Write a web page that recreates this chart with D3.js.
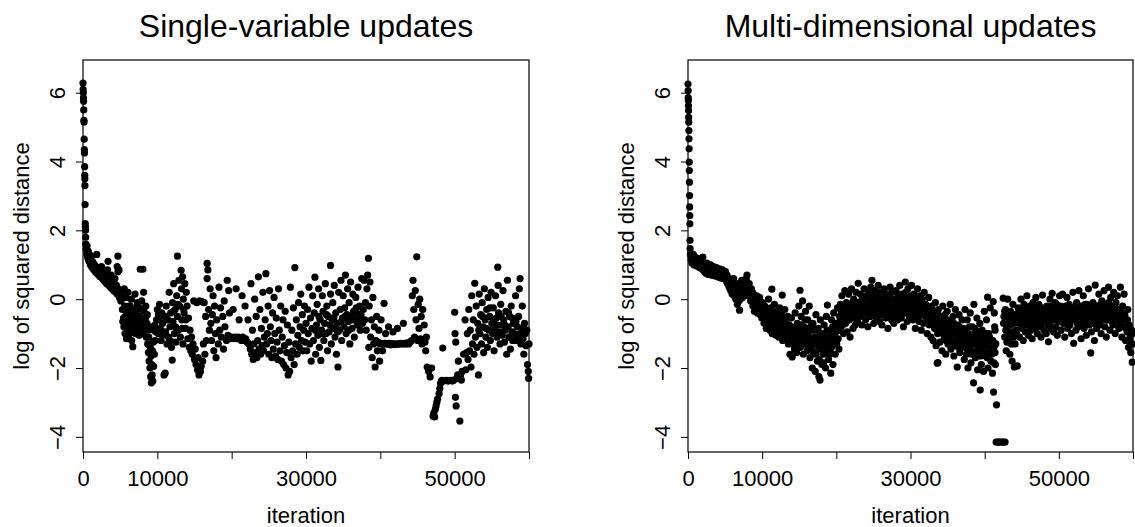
<!DOCTYPE html>
<html>
<head>
<meta charset="utf-8">
<script src="https://cdn.jsdelivr.net/npm/d3@7"></script>
<style>
  body { margin: 0; background: #fff; }
  text { font-family: "Liberation Sans", Arial, Helvetica, sans-serif; fill: #000; }
</style>
</head>
<body>
<div id="chart"></div>
<script>
// tick positions / labels (R drops the labels that would overlap)
const xTicks = [0, 10000, 20000, 30000, 40000, 50000, 60000];
const xTickLabels = ["0", "10000", "", "30000", "", "50000", ""];
const yTicks = [-4, -2, 0, 2, 4, 6];
const panelTitles = ["Single-variable updates", "Multi-dimensional updates"];

// [iteration, log of squared distance]
const singlePts = [
  [0,6.28],[20,6.1],[40,6.0],[60,5.85],[80,5.75],[100,5.5],[120,5.2],[140,5.15],[160,4.65],[180,4.35],[200,4.25],[220,3.85],[240,3.6],[250,3.5],[260,3.3],[280,2.75],[300,2.2],[320,2.1],[340,2.0],[360,1.8],[380,1.6],
  [420,1.45],[500,1.3],[550,1.55],[650,1.2],[700,1.4],[800,1.1],[850,1.3],[950,1.15],[1000,1.0],[1100,1.25],[1150,0.95],[1250,1.1],[1300,0.9],[1400,1.05],[1500,0.85],[1550,1.0],[1650,0.8],[1750,0.95],[1850,1.3],[1900,0.75],[2000,0.9],[2100,0.7],[2200,0.85],[2300,0.65],[2400,0.8],[2500,0.95],[2600,0.6],[2700,0.75],[2800,0.55],[2900,0.7],[3000,0.5],[3100,0.65],[3200,0.45],[3370,1.1],[3300,0.85],[3400,0.6],[3500,0.4],[3600,0.55],[3700,0.35],[3800,0.7],[3900,0.3],[4000,0.5],[4100,0.25],[4200,0.45],[4300,0.6],[4400,0.2],[4500,0.4],[4600,0.15],[4600,0.95],[4700,0.8],[4700,1.25],[4750,0.3],[4850,0.85],[4900,0.05],[5000,0.25],[5100,-0.05],[5200,0.15],
  [5300,-0.3],[5400,0.1],[5450,-0.55],[5500,-0.8],[5550,0.3],[5600,-0.2],[5650,-1.0],[5700,-0.5],[5750,0.05],[5800,-0.7],[5850,-1.15],[5900,-0.35],[6000,-0.9],[6050,0.2],[6100,-0.6],[6200,-0.2],[6250,-1.0],[6300,-0.45],[6400,-0.75],[6500,0.0],[6550,-1.2],[6600,-0.5],[6700,-1.38],[6750,-0.85],[6800,-0.3],[6900,-0.6],[7000,0.15],[7050,-1.0],[7100,-0.4],[7200,-0.75],[7300,-0.1],[7400,-0.9],[7500,-0.5],[7600,-0.25],[7700,0.87],[7700,-0.8],[7800,-0.55],[7900,-0.05],[8000,-1.0],[8050,0.87],[8100,-0.7],[8150,0.2],[8200,-0.35],[8300,-0.85],[8400,-0.55],[8500,-1.1],[8600,-0.7],[8700,-1.3],[8750,-0.9],[8800,-1.55],[8850,-1.1],[8900,-1.8],[8950,-0.8],[9000,-2.0],[9050,-1.4],[9100,-2.25],[9150,-1.65],[9200,-2.43],[9250,-1.9],[9300,-2.2],[9350,-1.5],[9400,-2.38],[9450,-1.25],[9500,-1.95],[9550,-0.9],[9600,-1.6],[9650,-0.75],[9700,-1.2],[9800,-0.95],[9900,-0.6],
  [5350,-0.65],[5650,-0.3],[5950,-0.75],[6150,-1.05],[6350,-0.2],[6650,-0.65],[6950,-0.95],[7150,-0.25],[7350,-0.6],[7550,-1.05],[7850,-0.3],[8250,-0.6],[8450,-0.2],[8650,-0.45],
  [10000,-0.3],[10100,-1.0],[10200,-0.6],[10300,-0.15],[10400,-0.85],[10500,-1.2],[10600,-0.4],[10700,-0.7],[10800,-1.05],[10900,-2.2],[11000,-0.5],[11050,-2.15],[11100,-0.95],[11200,-0.2],[11300,-1.3],[11400,-0.6],[11500,-1.1],[11600,0.2],[11700,-0.8],[11800,-0.4],[11900,-1.4],[12000,-1.77],[12050,-0.1],[12100,-0.65],[12200,0.45],[12300,-1.0],[12400,-0.3],[12500,-1.25],[12600,0.1],[12700,1.25],[12700,-0.5],[12800,-0.9],[12900,0.55],[13000,-0.2],[13100,-1.1],[13200,0.84],[13250,0.3],[13300,-0.6],[13400,0.65],[13450,-1.3],[13500,0.0],[13600,-0.4],[13700,0.45],[13800,-0.85],[13900,0.2],[14000,-0.2],[14100,-1.15],[14200,-0.55],[14300,-1.4],[14400,-0.9],[14500,-1.5],[14600,-1.1],[14700,-1.6],[14800,-1.3],[14900,-0.05],[15000,-1.75],[15100,-1.45],[15200,-1.9],[15300,-0.1],[15400,-2.05],[15500,-1.7],[15600,-2.2],[15700,-0.05],[15800,-2.1],[15900,-1.95],[16000,-0.07],[16100,-1.8],[16200,-1.3],[16300,-0.1],[16400,-1.6],[16500,-0.5],[16600,-1.2],[16700,1.04],[16700,0.6],[16800,0.85],[16900,-0.3],[17000,-0.9],[17100,0.3],[17200,-0.7],[17300,-1.2],[17400,-0.45],[17500,0.1],[17600,-1.5],[17700,-0.2],[17800,-1.0],[17900,-1.7],[18000,-0.6],[18200,-1.3],[18300,0.35],[18400,-0.9],[18500,-0.25],[18600,-1.1],[18800,-0.5],[18900,-1.45],[19000,-0.05],[19100,-0.8],[19300,-1.2],[19400,0.55],[19500,-1.05],[19600,0.25],[19700,-0.4],[19800,-1.15],
  [10150,-0.45],[10650,-0.95],[11150,-0.5],[11750,-1.2],[12150,-0.35],[12450,-0.8],[12750,-0.15],[13350,-0.85],[13550,-0.3],[13850,-0.6],
  [20000,-1.1],[20200,-0.3],[20300,-1.15],[20500,-1.1],[20600,0.3],[20700,-1.15],[20900,-1.1],[21000,-0.6],[21100,-1.15],[21300,-1.2],[21400,0.1],[21500,-1.1],[21700,-1.2],[21800,-0.2],[21900,-1.15],[22100,-1.25],[22200,-0.6],[22300,-1.3],[22500,-1.45],[22600,0.45],[22700,-1.6],[22800,-0.9],[22900,-1.75],[23000,-1.3],[23100,0.0],[23200,-1.55],[23300,-0.5],[23400,-1.7],[23500,-1.2],[23600,0.65],[23700,-1.45],[23800,-0.3],[23900,-1.6],[24000,-0.85],[24100,-1.35],[24200,0.2],[24300,-1.5],[24400,-1.1],[24500,-0.6],[24600,0.74],[24700,-1.3],[24800,-1.0],[24900,-0.2],
  [25000,-1.6],[25100,0.25],[25200,-0.8],[25300,-1.2],[25400,-1.7],[25500,-0.4],[25600,-1.45],[25700,0.05],[25800,-1.0],[25900,-1.65],[26000,-0.55],[26100,-1.25],[26200,-1.75],[26300,0.3],[26400,-0.9],[26500,-1.5],[26600,-0.2],[26700,-1.8],[26800,-1.1],[26900,-0.6],[27000,-1.9],[27100,-1.35],[27200,-0.35],[27300,-2.0],[27400,-1.55],[27500,-0.75],[27600,-2.2],[27700,-1.25],[27800,-2.1],[27900,0.35],[28000,-1.7],[28100,-0.9],[28200,-1.5],[28300,-0.25],[28400,-1.9],[28500,0.92],[28600,-1.3],[28700,-0.6],[28800,-1.6],[28900,-1.05],[29000,-0.1],[29100,-1.4],[29200,-0.8],[29300,0.15],[29400,-1.2],[29500,-0.45],[29600,-1.5],[29700,-0.9],[29800,-0.2],[29900,-1.25],
  [30000,-0.7],[30100,-1.5],[30200,-0.3],[30300,-1.0],[30400,0.35],[30500,-1.3],[30600,-0.55],[30700,-1.8],[30800,-0.85],[30900,0.1],[31000,-1.2],[31100,-0.4],[31200,0.64],[31300,-1.6],[31400,-0.75],[31500,-0.15],[31600,-1.05],[31700,0.3],[31800,-1.4],[31900,-0.6],[32000,-1.78],[32100,-0.9],[32200,0.1],[32300,-0.35],[32400,-1.2],[32500,-0.7],[32600,0.45],[32700,-1.0],[32800,-0.2],[32900,-1.5],[33000,-0.5],[33100,-0.95],[33300,0.98],[33300,0.15],[33400,-1.3],[33500,-0.6],[33600,-0.1],[33700,-0.85],[33800,0.4],[33900,-1.1],[34000,-0.4],[34100,-1.6],[34200,-0.7],[34300,-1.97],[34400,0.2],[34500,-0.9],[34600,-0.3],[34700,0.55],[34800,-1.2],[34900,-0.55],[35000,0.1],[35100,-0.8],[35200,-0.25],[35300,0.7],[35400,-1.0],[35500,-0.45],[35600,0.3],[35700,-0.65],[35800,-0.1],[35900,-1.3],[36000,0.5],[36100,-0.5],[36200,-0.85],[36300,0.15],[36400,-0.35],[36500,-1.1],[36600,-0.6],[36700,0.05],[36800,-0.4],[36900,-0.75],[37000,0.35],[37100,-0.55],[37200,-0.2],[37300,-0.9],[37400,-0.45],[37500,0.6],[37600,-0.7],[37700,-0.3],[37800,0.55],[37900,-0.6],[38000,-0.1],
  [31250,-0.9],[31750,-0.5],[32250,-1.0],[32750,-0.45],[33250,-0.75],[33750,-0.55],[34250,-0.95],[34750,-0.65],[35250,-0.5],[35750,-0.9],[36250,-0.6],[36750,-0.25],[37250,-0.65],
  [38100,-0.9],[38200,0.3],[38300,0.7],[38400,1.19],[38450,-1.4],[38500,-0.2],[38600,0.5],[38700,-1.1],[38800,-0.6],[38900,-1.7],[39000,0.05],[39100,-1.3],[39200,-0.8],[39300,-1.97],[39400,-1.2],[39500,-0.5],[39600,-1.5],[39700,-1.25],[39800,-0.9],[39900,-1.8],[40000,-1.3],[40100,-0.6],[40200,-1.28],[40300,-1.5],[40400,-1.3],[40500,-0.12],[40600,-1.28],[40700,-1.0],[40800,-1.3],[41000,-1.3],[41100,-0.8],[41200,-1.28],[41400,-1.33],[41600,-1.3],[41700,-0.95],[41800,-1.3],[42000,-1.32],[42200,-1.3],[42300,-0.85],[42400,-1.3],[42600,-1.3],[42800,-1.28],[43000,-1.3],[43100,-0.7],[43200,-1.28],[43400,-1.3],[43600,-1.27],[43800,-1.3],[44000,-1.25],[44200,-1.2],[44300,0.1],[44400,0.55],[44500,-0.3],[44600,-1.1],[44700,0.25],[44800,-0.6],[44900,1.23],[45000,-1.2],[45100,-0.15],[45200,-0.85],[45300,0.0],[45400,-1.15],[45500,-0.5],[45600,-1.3],[45700,-0.3],[45800,-1.2],[45900,-0.75],[46000,-1.25],[46100,-1.5],[46200,-1.1],[46300,-1.97],[46500,-2.1],[46700,-2.26],[46900,-2.0],
  [47100,-3.4],[47200,-3.3],[47300,-3.42],[47400,-3.2],[47500,-3.1],[47600,-3.0],[47700,-2.9],[47900,-2.75],[48000,-2.6],[48100,-2.45],[48200,-2.38],[48300,-2.36],[48400,-1.42],[48500,-2.38],[48700,-2.37],[48900,-2.36],[49100,-2.38],[49300,-2.37],[49500,-2.36],[49700,-2.38],[49900,-2.35],[50000,-0.38],[50050,-1.0],[50100,-2.85],[50150,-1.25],[50200,-3.1],[50300,-2.3],[50400,-2.2],[50500,-1.8],[50600,-2.3],[50700,-3.54],[50800,-2.2],[50900,-2.35],[51000,-2.1],[51200,-1.6],[51400,-0.6],[51500,-2.05],[51600,-1.55],
  [51700,-1.0],[51800,-1.75],[51900,-0.3],[52000,-1.5],[52100,-0.9],[52200,-1.97],[52300,0.1],[52400,-1.3],[52500,-0.6],[52600,-1.6],[52700,0.46],[52800,-1.1],[52900,-0.2],[53000,-1.4],[53100,-0.7],[53200,-2.2],[53300,0.15],[53400,-1.0],[53500,-0.45],[53600,-1.3],[53700,-0.1],[53800,-0.8],[53900,-1.55],[54000,0.3],[54100,-0.6],[54200,-1.1],[54300,-0.3],[54400,-1.4],[54500,0.05],[54600,-0.9],[54700,-0.5],[54800,-1.2],[54900,0.2],[55000,-0.7],[55100,-1.0],[55200,-0.25],[55300,-1.5],[55400,-0.85],[55500,0.1],[55600,-0.55],[55700,-1.1],[55800,0.93],[55850,0.4],[55900,-0.4],[56000,-0.95],[56100,-1.3],[56200,-0.15],[56300,-0.75],[56400,-1.05],[56500,0.25],[56600,-0.6],[56700,-1.25],[56800,-0.9],[56900,-0.35],[57000,-1.6],[57100,0.55],[57200,-0.8],[57300,-1.1],[57400,-0.5],[57500,-1.45],[57600,-0.2],[57700,-0.95],[57800,-1.2],[57900,-0.7],[58000,-1.0],[58200,0.1],[58300,-1.2],[58400,-0.8],[58500,-1.1],[58600,-0.5],[58700,0.3],[58800,0.6],[58900,-1.3],[59000,-0.9],[59100,-0.2],[59200,-1.15],[59300,-1.6],[59400,-0.7],[59500,-1.0],[59600,-1.35],[59700,-0.9],[59800,-1.9],[59900,-2.1],[59950,-2.3],[60000,-1.3],
  [53250,-0.9],[53750,-0.5],[54250,-0.85],[54750,-0.25],[55250,-0.65],[55750,-0.75],[56250,-0.5],[56750,-0.75],[57250,-0.4],[57750,-0.55],[58250,-0.65],[58750,-1.0],[59250,-0.8]
];

const multiPts = [
  [0,6.25],[15,6.06],[30,5.86],[45,5.77],[60,5.62],[75,5.48],[90,5.28],[105,5.14],[120,4.9],[135,4.66],[150,4.37],[165,3.98],[180,3.74],[195,3.4],[210,3.01],[225,2.68],[240,2.43],[255,2.19],[270,1.71],[285,1.47],[320,1.3],
  [360,1.3],[420,1.15],[480,1.25],[540,1.05],[600,1.2],[660,1.1],[720,1.3],[780,1.0],[840,1.15],[900,1.22],[960,1.05],[1020,1.12],[1080,0.98],[1140,1.2],[1200,1.08],[1260,1.15],[1320,0.95],[1380,1.1],[1440,1.02],[1500,1.18],[1560,0.92],[1620,1.05],[1680,0.98],[1740,1.12],[1800,0.9],[1860,1.02],[1920,0.95],[2000,1.22],
  [2050,0.85],[2150,1.0],[2250,0.8],[2350,0.95],[2450,0.75],[2550,1.05],[2650,0.88],[2750,0.72],[2850,0.95],[2950,0.82],[3050,1.0],[3150,0.7],[3250,0.9],[3350,0.78],[3450,0.95],[3550,0.68],[3650,0.85],[3750,0.75],[3850,0.92],[3950,0.65],[4050,0.8],[4150,0.72],[4250,0.88],[4350,0.62],[4450,0.78],[4550,0.7],[4650,0.85],[4750,0.6],[4850,0.75],[4950,0.65],
  [5050,0.8],[5150,0.55],[5250,0.7],[5350,0.45],[5450,0.62],[5550,0.35],[5650,0.55],[5750,0.25],[5850,0.48],[5950,0.15],[6050,0.4],[6150,0.6],[6250,0.1],[6350,0.3],[6450,0.0],[6550,0.22],[6650,-0.15],[6750,0.45],[6850,-0.05],[6950,-0.32],[7050,0.15],[7150,0.35],[7250,0.55],[7350,0.05],[7450,0.3],[7550,0.5],[7650,0.2],[7750,0.4],[7850,0.6],[7950,0.7],[8050,0.35],[8150,0.1],
  [8250,0.45],[8350,0.2],[8450,-0.05],[8550,0.3],[8650,0.05],[8750,-0.2],[8850,0.15],[8950,-0.35],[9050,0.0],[9150,-0.15],[9250,0.1],[9350,-0.4],[9450,-0.1],[9550,-0.25],[9650,0.05],[9750,-0.45],[9850,-0.2],[9950,-0.55],
  [10050,-0.1],[10150,-0.4],[10250,-0.7],[10350,-0.2],[10450,-0.55],[10550,-0.85],[10650,-0.3],[10750,-0.6],[10850,0.0],[10950,-0.45],[11050,-0.9],[11150,-0.25],[11250,-0.65],[11300,0.29],[11350,-1.0],[11450,-0.4],[11550,-0.75],[11650,-0.15],[11750,-0.55],[11850,-1.05],[11950,-0.35],[12050,-0.8],[12150,-0.5],[12250,-1.1],[12350,-0.25],[12450,-0.7],[12550,-0.95],[12700,0.12],[12650,-0.45],[12750,-1.2],[12850,-0.6],[12950,-0.85],[13050,-0.3],[13150,-1.15],[13250,-0.7],[13350,-0.95],[13450,-0.5],
  [13550,-1.3],[13650,-0.75],[13750,-1.6],[13850,-1.0],[13950,-0.55],[14050,-1.68],[14150,-1.2],[14250,-0.85],[14350,-1.45],[14450,-0.4],[14550,-1.05],[14650,-1.55],[14750,-0.7],[14850,-1.25],[14950,-0.2],[15050,-0.95],[15100,0.26],
  [15150,-1.4],[15250,-0.5],[15350,-1.1],[15450,-0.05],[15550,-1.6],[15650,-0.8],[15750,-1.3],[15850,-0.35],[15950,-1.0],[16050,-1.5],[16150,-0.6],[16250,-1.2],[16350,-0.2],[16450,-1.7],[16550,-0.9],[16650,-1.35],[16750,-2.0],[16850,-0.7],[16950,-1.55],[17050,-1.1],[17150,-2.1],[17250,-0.45],[17350,-1.3],[17450,-1.8],[17550,-0.85],[17650,-2.25],[17750,-1.45],[17800,-2.35],[17850,-0.6],[17950,-1.2],[18050,-1.9],
  [18150,-1.0],[18250,-1.6],[18350,-0.75],[18450,-1.35],[18550,-2.0],[18650,-0.5],[18800,-0.17],[18850,-1.15],[18950,-1.75],[19050,-0.9],[19150,-1.5],[19250,-2.15],[19350,-0.6],[19450,-1.25],[19550,-1.9],[19650,-0.4],[19750,-1.0],[19850,-1.6],[19950,-0.7],[20050,-1.3],[20150,-0.25],[20250,-0.9],[20350,-1.45],[20450,-0.5],
  [20550,-0.15],[20650,-0.8],[20750,0.1],[20850,-0.55],[20950,-1.0],[21050,-0.3],[21150,0.25],[21250,-0.7],[21350,-0.1],[21450,-0.95],[21550,-0.4],[21650,0.15],[21750,-0.6],[21850,-1.1],[21950,-0.25],[22050,0.3],[22150,-0.5],[22250,-0.85],[22350,0.0],[22450,-0.4],[22550,-0.75],[22650,0.2],[22750,-0.3],[22850,-0.65],[22950,0.46],
  [23050,-0.1],[23150,-0.5],[23250,0.15],[23350,-0.3],[23450,-0.75],[23550,0.05],[23650,-0.4],[23750,0.3],[23850,-0.2],[23950,-0.6],[24050,0.1],[24150,-0.35],[24250,-0.8],[24350,0.2],[24450,-0.15],[24550,-0.5],[24650,0.35],[24800,0.55],[24750,-0.05],[24850,-0.45],[24950,0.0],[25050,-0.7],[25150,0.25],[25250,-0.25],[25350,-0.55],[25450,0.1],[25550,-0.35],[25650,0.4],[25750,-0.1],[25850,-0.65],[25950,0.2],[26050,-0.3],[26150,-0.75],[26250,0.05],[26350,-0.45],[26450,0.3],[26550,-0.15],[26650,-0.55],[26750,0.15],[26850,-0.25],[26950,-0.85],[27050,0.1],[27150,-0.4],[27250,0.35],[27350,-0.05],[27450,-0.6],[27550,0.2],[27650,-0.3],[27750,-0.7],[27850,0.0],[27950,-0.45],[28050,0.25],[28150,-0.2],[28250,-0.6],[28350,0.1],[28450,-0.35],[28550,0.4],[28650,-0.1],[28750,-0.55],[28850,0.15],[28950,-0.3],[29050,-0.8],[29150,0.05],[29300,0.5],[29250,-0.4],[29350,0.2],[29450,-0.15],[29550,-0.65],[29650,0.3],[29750,-0.25],[29850,-0.5],[29950,0.1],[30050,-0.35],[30150,0.4],[30250,-0.05],[30350,-0.6],[30450,0.15],[30550,-0.3],[30650,-0.85],[30750,0.05],[30850,-0.45],[30950,0.3],[31050,-0.2],[31150,-0.65],[31250,0.1],[31350,-0.4],[31450,-0.9],[31550,0.0],[31650,-0.3],[31750,-0.7],[31850,0.2],[31950,-0.5],
  [32050,-0.15],[32150,-0.6],[32250,-1.0],[32350,-0.3],[32450,0.05],[32550,-0.75],[32650,-0.45],[32750,-1.1],[32850,-0.2],[32950,-0.65],[33050,-1.2],[33150,-0.4],[33250,-0.85],[33350,-0.1],[33450,-1.35],[33550,-0.55],[33600,-1.86],[33650,-1.0],[33700,-1.84],[33750,-0.3],[33850,-0.75],[33950,-1.25],[34050,-0.5],[34150,-0.95],[34250,-1.5],[34350,-0.2],[34450,-0.7],[34550,-1.15],[34650,-0.45],[34750,-1.6],[34850,-0.9],[34950,-0.35],[35050,-1.3],[35150,-0.65],[35250,-1.05],[35350,-0.15],[35450,-1.45],[35550,-0.8],[35650,-1.2],[35750,-0.5],[35850,-1.65],[35950,-1.0],[36050,-0.3],[36150,-1.35],[36300,-1.97],[36350,-0.75],[36450,-1.1],[36550,-0.45],[36650,-1.55],[36750,-0.9],[36850,-1.25],[36950,-0.6],
  [37050,-1.4],[37150,-0.85],[37250,-1.75],[37350,-0.3],[37450,-1.15],[37550,-1.6],[37650,-0.6],[37750,-2.0],[37850,-1.0],[37950,-1.45],[38050,-0.4],[38150,-1.85],[38250,-1.2],[38350,-0.8],[38500,-2.43],[38450,-1.55],[38550,-0.15],[38650,-1.0],[38750,-1.7],[38850,-1.3],[38950,-0.55],[39050,-2.05],[39150,-1.1],[39250,-1.5],[39400,-2.64],[39350,-0.7],[39450,-1.25],[39550,-1.9],[39650,-0.9],[39750,-1.45],[39850,-2.1],[39950,-0.35],[40050,-1.15],[40150,-1.65],[40250,-0.6],[40400,0.06],[40350,-1.35],[40450,-2.0],[40550,-1.0],[40650,-1.5],[40750,-0.25],[40850,-1.8],[40950,-1.2],[41050,-2.15],[41200,-2.7],[41150,-0.07],[41250,-1.4],[41300,-0.4],[41350,-0.8],[41400,-0.9],[41450,-1.9],[41500,-1.3],[41600,-3.07],[41550,-4.15],[41750,-4.15],[41950,-4.15],[42150,-4.15],[42350,-4.15],[42550,-4.15],[42750,-4.15],
  [42500,0.03],[42600,-0.5],[42700,-1.1],[42800,-0.3],[42900,-1.5],[43000,-0.8],[43100,0.0],[43200,-1.2],[43300,-0.6],[43400,-1.6],[43500,-0.35],[43600,-0.95],[43700,-1.8],[43800,-0.15],[43900,-0.7],[44000,-1.97],[44100,-1.3],[44200,-0.45],[44300,-1.0],[44400,-1.94],[44500,-0.25],
  [44600,-0.7],[44700,-1.1],[44800,-0.3],[44900,0.0],[45000,-0.85],[45100,-0.5],[45200,-1.2],[45300,-0.15],[45400,-0.65],[45500,-0.95],[45600,-0.35],[45700,0.1],[45800,-0.75],[45900,-1.05],[46000,-0.45],[46100,-0.2],[46200,-0.9],[46300,-0.55],[46400,-1.15],[46500,-0.1],[46600,-0.6],[46700,-0.85],[46800,-0.3],[46900,0.05],[47000,-0.7],[47100,-1.0],[47200,-0.4],[47300,-0.15],[47400,-0.8],[47500,-0.5],[47600,-1.1],[47700,-0.25],[47800,0.12],[47900,-0.65],[48000,-0.9],[48100,-0.35],[48200,-0.6],[48300,-1.0],[48400,-0.2],[48500,-0.75],[48600,-1.24],[48700,-0.45],[48800,0.0],[48900,-0.85],[49000,-0.55],[49100,0.17],[49200,-0.3],[49300,-0.95],[49400,-0.6],[49500,-0.1],[49600,-0.8],[49700,-0.4],[49800,-1.05],[49900,-0.2],[50000,-0.65],[50100,0.1],[50200,-0.5],[50300,-0.9],[50400,-0.3],[50500,0.15],[50600,-0.7],[50700,-0.45],[50800,-1.1],[50900,-0.2],[51000,-0.6],[51100,0.05],[51200,-0.85],[51300,-0.4],[51400,-0.15],[51500,-0.75],[51600,-0.5],[51700,-1.0],[51800,-0.25],[51900,0.2],[52000,-1.28],[52100,-0.6],[52200,-0.35],[52300,-0.9],[52400,-0.1],[52500,-0.55],[52600,-0.8],[52700,0.25],[52800,-0.4],[52900,-0.7],[53000,-1.15],[53100,-0.2],[53200,-0.5],[53300,0.1],[53400,-0.85],[53500,-0.35],[53600,-0.65],[53700,-1.05],[53800,-0.15],[53900,-0.55],[54000,0.3],[54100,-0.75],[54200,-0.3],[54300,-1.56],[54400,-0.95],[54500,-0.45],[54600,-0.1],[54700,-0.7],[54800,-1.2],[54900,0.41],[55000,-0.4],[55100,-0.85],[55200,-0.2],[55300,-0.55],[55400,0.15],[55500,-0.75],[55600,-0.35],[55700,-1.0],[55800,-0.05],[55900,-0.6],[56000,-0.3],[56100,0.25],[56200,-0.8],[56300,-0.45],[56400,-1.1],[56500,-0.15],[56600,-0.6],[56700,0.35],[56800,-0.35],[56900,-0.9],[57000,0.05],[57100,-0.5],[57200,-0.25],[57300,-0.75],[57400,0.2],[57500,-0.4],[57600,-1.0],[57700,-0.1],[57800,-0.55],
  [57900,0.1],[58000,-0.3],[58100,-0.85],[58200,-0.5],[58300,0.35],[58400,-0.65],[58500,-1.1],[58600,-0.2],[58700,-0.8],[58800,0.15],[58900,-0.45],[59000,-1.2],[59100,-0.6],[59200,-0.95],[59300,-0.3],[59400,-1.4],[59500,-0.75],[59600,-1.1],[59700,-1.55],[59800,-0.9],[59900,-1.83],[59950,-1.3],[60000,-1.0],
  // band core, second pass
  [2100,0.92],[2250,0.98],[2400,0.85],[2550,0.9],[2700,0.95],[2850,0.78],[3000,0.88],[3150,0.85],[3300,0.8],[3450,0.72],[3600,0.9],[3750,0.82],[3900,0.78],[4050,0.7],[4200,0.82],[4350,0.75],[4500,0.65],[4650,0.72],[4800,0.68],[4950,0.8],
  [5100,0.65],[5250,0.5],[5400,0.58],[5550,0.45],[5700,0.4],[5850,0.3],[6000,0.35],[6150,0.2],[6300,0.25],[6450,0.15],[6600,0.05],[6750,0.2],[6900,0.1],[7050,0.0],[7200,0.25],[7350,0.4],[7500,0.15],[7650,0.35],[7800,0.25],[7950,0.5],
  [8100,0.25],[8250,0.1],[8400,0.3],[8550,0.0],[8700,0.2],[8850,-0.1],[9000,0.1],[9150,-0.3],[9300,-0.05],[9450,-0.3],[9600,-0.1],[9750,-0.3],[9900,-0.4],
  [10050,-0.5],[10200,-0.25],[10350,-0.45],[10500,-0.3],[10650,-0.65],[10800,-0.4],[10950,-0.7],[11100,-0.55],[11250,-0.35],[11400,-0.85],[11550,-0.5],[11700,-0.8],[11850,-0.6],[12000,-0.95],[12150,-0.7],[12300,-0.45],[12450,-0.9],[12600,-0.7],[12750,-0.85],[12900,-1.0],[13050,-0.65],[13200,-0.9],[13350,-0.75],[13500,-1.1],
  [13650,-0.95],[13800,-1.2],[13950,-0.8],[14100,-1.05],[14250,-1.3],[14400,-0.9],[14550,-1.25],[14700,-1.0],[14850,-0.85],[15000,-1.15],
  [15150,-0.75],[15300,-1.25],[15450,-0.95],[15600,-1.1],[15750,-0.6],[15900,-1.3],[16050,-0.85],[16200,-1.0],[16350,-1.4],[16500,-1.15],[16650,-0.75],[16800,-1.5],[16950,-1.2],[17100,-0.9],[17250,-1.6],[17400,-1.1],[17550,-1.35],[17700,-1.75],[17850,-1.0],[18000,-1.45],
  [18150,-1.25],[18300,-1.85],[18450,-1.1],[18600,-1.5],[18750,-0.9],[18900,-1.3],[19050,-1.6],[19200,-1.05],[19350,-1.4],[19500,-0.8],[19650,-1.15],[19800,-1.3],[19950,-0.95],[20100,-0.7],[20250,-1.15],[20400,-0.8],
  [20550,-0.6],[20700,-0.35],[20850,-0.75],[21000,-0.5],[21150,-0.2],[21300,-0.45],[21450,-0.6],[21600,-0.3],[21750,-0.15],[21900,-0.5],[22050,-0.35],[22200,-0.1],[22350,-0.55],[22500,-0.25],[22650,-0.45],[22800,-0.1],[22950,-0.35],
  [23100,-0.25],[23250,-0.45],[23400,-0.05],[23550,-0.3],[23700,-0.15],[23850,-0.4],[24000,-0.2],[24150,0.05],[24300,-0.35],[24450,-0.1],[24600,-0.3],[24750,0.15],[24900,-0.25],[25050,-0.05],[25200,-0.4],[25350,-0.15],[25500,0.05],[25650,-0.3],[25800,-0.2],[25950,-0.45],[26100,0.0],[26250,-0.25],[26400,-0.1],[26550,-0.4],[26700,-0.2],[26850,0.05],[27000,-0.3],[27150,-0.15],[27300,-0.45],[27450,-0.05],[27600,-0.25],[27750,-0.1],[27900,-0.35],[28050,-0.2],[28200,0.0],[28350,-0.4],[28500,-0.15],[28650,-0.3],[28800,0.05],[28950,-0.2],[29100,-0.4],[29250,-0.1],[29400,-0.3],[29550,0.0],[29700,-0.2],[29850,-0.35],[30000,-0.1],[30150,-0.25],[30300,-0.45],[30450,-0.15],[30600,-0.05],[30750,-0.35],[30900,-0.2],[31050,-0.5],[31200,-0.3],[31350,-0.1],[31500,-0.45],[31650,-0.2],[31800,-0.4],[31950,-0.15],
  [32100,-0.35],[32250,-0.55],[32400,-0.25],[32550,-0.45],[32700,-0.7],[32850,-0.5],[33000,-0.35],[33150,-0.75],[33300,-0.55],[33450,-0.85],[33600,-0.4],[33750,-0.65],[33900,-0.95],[34050,-0.7],[34200,-0.55],[34350,-0.9],[34500,-1.05],[34650,-0.75],[34800,-1.2],[34950,-0.6],[35100,-0.95],[35250,-1.15],[35400,-0.8],[35550,-1.3],[35700,-0.95],[35850,-0.7],[36000,-1.2],[36150,-0.85],[36300,-1.05],[36450,-1.4],[36600,-0.8],[36750,-1.15],[36900,-1.35],
  [37050,-1.0],[37200,-1.3],[37350,-0.95],[37500,-1.25],[37650,-1.45],[37800,-1.1],[37950,-0.8],[38100,-1.35],[38250,-1.6],[38400,-1.05],[38550,-1.3],[38700,-0.85],[38850,-1.5],[39000,-1.2],[39150,-1.45],[39300,-0.95],[39450,-1.65],[39600,-1.3],[39750,-1.1],[39900,-1.55],[40050,-1.35],[40200,-1.0],[40350,-1.7],[40500,-1.3],[40650,-1.1],[40800,-1.45],[40950,-1.6],[41100,-1.2],[41250,-1.85],[41400,-1.55],
  [42550,-0.7],[42700,-0.35],[42850,-0.9],[43000,-1.25],[43150,-0.5],[43300,-1.0],[43450,-0.75],[43600,-1.3],[43750,-0.5],[43900,-1.1],[44050,-0.65],[44200,-0.9],[44350,-0.5],
  [44550,-0.4],[44700,-0.6],[44850,-0.45],[45000,-0.3],[45150,-0.7],[45300,-0.55],[45450,-0.35],[45600,-0.75],[45750,-0.5],[45900,-0.25],[46050,-0.65],[46200,-0.4],[46350,-0.8],[46500,-0.5],[46650,-0.3],[46800,-0.65],[46950,-0.45],[47100,-0.2],[47250,-0.6],[47400,-0.35],[47550,-0.75],[47700,-0.5],[47850,-0.3],[48000,-0.6],[48150,-0.45],[48300,-0.25],[48450,-0.55],[48600,-0.35],[48750,-0.7],[48900,-0.4],[49050,-0.2],[49200,-0.55],[49350,-0.35],[49500,-0.6],[49650,-0.15],[49800,-0.45],[49950,-0.3],[50100,-0.55],[50250,-0.2],[50400,-0.6],[50550,-0.4],[50700,-0.25],[50850,-0.5],[51000,-0.35],[51150,-0.65],[51300,-0.2],[51450,-0.45],[51600,-0.3],[51750,-0.6],[51900,-0.4],[52050,-0.25],[52200,-0.55],[52350,-0.3],[52500,-0.7],[52650,-0.45],[52800,-0.2],[52950,-0.5],[53100,-0.35],[53250,-0.65],[53400,-0.4],[53550,-0.15],[53700,-0.5],[53850,-0.3],[54000,-0.6],[54150,-0.45],[54300,-0.2],[54450,-0.7],[54600,-0.4],[54750,-0.3],[54900,-0.55],[55050,-0.2],[55200,-0.45],[55350,-0.3],[55500,-0.6],[55650,-0.15],[55800,-0.4],[55950,-0.25],[56100,-0.5],[56250,-0.3],[56400,-0.6],[56550,-0.4],[56700,-0.1],[56850,-0.5],[57000,-0.3],[57150,-0.65],[57300,-0.45],[57450,-0.2],[57600,-0.55],[57750,-0.35],
  [57900,-0.6],[58050,-0.45],[58200,-0.75],[58350,-0.3],[58500,-0.6],[58650,-0.45],[58800,-0.8],[58950,-0.55],[59100,-0.85],[59250,-0.6],[59400,-0.9],[59550,-1.2],[59700,-0.95],[59850,-1.3]
];

const W = 1135, H = 527;
const svg = d3.select("#chart").append("svg")
    .attr("width", W)
    .attr("height", H);

function drawPanel(left, right, title, pts) {
    let top = 60, bottom = 452;

    let x = d3.scaleLinear().domain([0, 60000]).range([left, right]);
    let y = d3.scaleLinear().domain([-4.44, 6.95]).range([bottom, top]);

    let g = svg.append("g");

    // points
    g.append("g").selectAll("circle")
        .data(pts)
        .join("circle")
        .attr("cx", d => x(d[0]))
        .attr("cy", d => y(d[1]))
        .attr("r", 3.6)
        .attr("fill", "#000");

    // x axis (ticks only, the box gives the line)
    let xAxis = g.append("g")
        .attr("transform", `translate(0,${bottom})`)
        .call(d3.axisBottom(x).tickValues(xTicks).tickSize(7)
            .tickFormat((d, i) => xTickLabels[i]));
    xAxis.attr("font-size", null).attr("font-family", null);
    xAxis.select(".domain").remove();
    xAxis.selectAll("line").attr("stroke", "#000").attr("stroke-width", 1);
    xAxis.selectAll("text")
        .attr("y", 34).attr("dy", null)
        .style("font-size", "22px");

    // y axis with rotated labels
    let yAxis = g.append("g")
        .attr("transform", `translate(${left},0)`)
        .call(d3.axisLeft(y).tickValues(yTicks).tickSize(7));
    yAxis.attr("font-size", null).attr("font-family", null);
    yAxis.select(".domain").remove();
    yAxis.selectAll("line").attr("stroke", "#000").attr("stroke-width", 1);
    yAxis.selectAll("text")
        .attr("x", null).attr("dy", null)
        .attr("text-anchor", "middle")
        .attr("transform", "translate(-18,0) rotate(-90)")
        .style("font-size", "22px");

    // frame
    g.append("rect")
        .attr("x", left).attr("y", top)
        .attr("width", right - left).attr("height", bottom - top)
        .attr("fill", "none").attr("stroke", "#000").attr("stroke-width", 1.2);

    // title and axis labels
    let cx = (left + right) / 2;
    g.append("text")
        .attr("x", cx).attr("y", 37)
        .attr("text-anchor", "middle")
        .style("font-size", "32px")
        .text(title);

    g.append("text")
        .attr("x", cx).attr("y", 523)
        .attr("text-anchor", "middle")
        .style("font-size", "22px")
        .text("iteration");

    g.append("text")
        .attr("transform", `translate(${left - 54},${(top + bottom) / 2}) rotate(-90)`)
        .attr("text-anchor", "middle")
        .style("font-size", "22px")
        .text("log of squared distance");
}

drawPanel(83, 529, panelTitles[0], singlePts);
drawPanel(688, 1133, panelTitles[1], multiPts);
</script>
</body>
</html>
